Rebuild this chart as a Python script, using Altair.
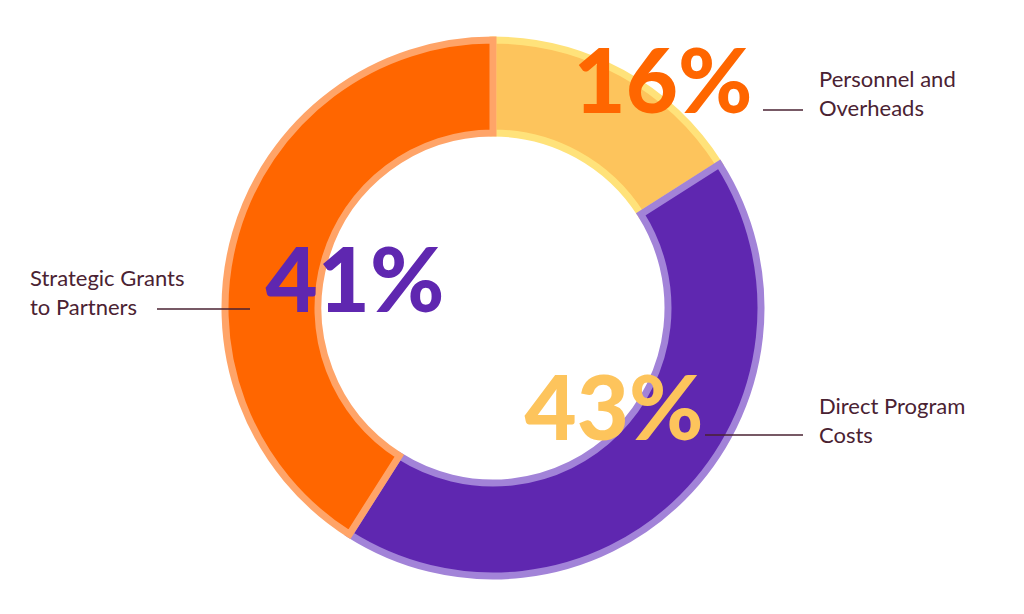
import altair as alt
import pandas as pd

categories = ["Personnel and Overheads", "Direct Program Costs", "Strategic Grants to Partners"]
shares = [16, 43, 41]
pct_labels = ["16%", "43%", "41%"]
label_lines = [["Personnel and", "Overheads"], ["Direct Program", "Costs"], ["Strategic Grants", "to Partners"]]
fill_colors = ["#FDC45C", "#5F27B0", "#FF6600"]
edge_colors = ["#FFE27A", "#A283D8", "#FFA468"]
pct_colors = ["#FF6600", "#FDC45C", "#5F27B0"]

df = pd.DataFrame({
    "category": categories,
    "share": shares,
    "order": [0, 1, 2],
    "pct": pct_labels,
})

W, H = 1008, 598
CX, CY = 485, 300

base = alt.Chart(df)

ring = base.mark_arc(outerRadius=268, innerRadius=175, strokeWidth=7).encode(
    theta=alt.Theta("share:Q", stack=True),
    order=alt.Order("order:Q"),
    fill=alt.Fill("category:N", scale=alt.Scale(domain=categories, range=fill_colors), legend=None),
    stroke=alt.Stroke("category:N", scale=alt.Scale(domain=categories, range=edge_colors), legend=None),
    x=alt.value(CX),
    y=alt.value(CY),
)

pct_pos = {
    "16%": (655, 105),
    "43%": (606, 432),
    "41%": (347, 304),
}
layers = [ring]
for p, col in zip(pct_labels, pct_colors):
    px, py = pct_pos[p]
    layers.append(
        base.transform_filter(alt.datum.pct == p).mark_text(
            font="Lato", fontWeight=900, fontSize=90, align="center", baseline="alphabetic", color=col
        ).encode(text="pct:N", x=alt.value(px), y=alt.value(py))
    )

lab_pos = [(811, 79), (811, 406), (22, 278)]
for lines, (lx, ly) in zip(label_lines, lab_pos):
    layers.append(
        alt.Chart(pd.DataFrame({"t": [lines]})).mark_text(
            font="Lato", fontSize=22, align="left", baseline="alphabetic", color="#4A2232", lineHeight=29
        ).encode(text="t", x=alt.value(lx), y=alt.value(ly))
    )

rule_pos = [(755, 795, 102), (697, 795, 427), (149, 242, 301)]
for x1, x2, yy in rule_pos:
    layers.append(
        alt.Chart(pd.DataFrame({"a": [0]})).mark_rule(color="#4A2232", strokeWidth=1.5).encode(
            x=alt.value(x1), x2=alt.value(x2), y=alt.value(yy)
        )
    )

chart = alt.layer(*layers).properties(
    width=W, height=H, autosize="none", padding=0, background="white"
).configure_view(stroke=None)

chart.save("out.html", embed_options={"renderer": "svg", "actions": False})
